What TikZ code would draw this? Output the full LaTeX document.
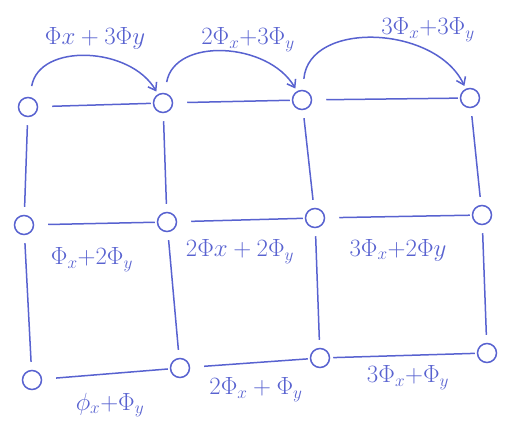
\documentclass[tikz,border=0pt]{standalone}
\usetikzlibrary{arrows.meta}
\definecolor{handblue}{RGB}{88,98,208}
\begin{document}
\begin{tikzpicture}[x=1pt,y=-1pt,
  pt/.style={circle,draw=handblue,line width=1.5pt,minimum size=19pt,inner sep=0pt},
  edge/.style={draw=handblue,line width=1.5pt,shorten <=8pt,shorten >=8pt},
  hedge/.style={edge,shorten <=14pt,shorten >=2pt},
  hop/.style={draw=handblue,line width=1.5pt,-{Straight Barb[length=7pt,width=10pt]},shorten <=11pt,shorten >=3pt,looseness=1.1},
  lab/.style={text=handblue,font=\fontsize{27}{30}\selectfont,inner sep=0pt}]
\useasboundingbox (0,0) rectangle (508,428);
% nodes
\node[pt] (n11) at (28,107) {};
\node[pt] (n12) at (163,103) {};
\node[pt] (n13) at (302,100) {};
\node[pt] (n14) at (470,98) {};
\node[pt] (n21) at (24,225) {};
\node[pt] (n22) at (167,222) {};
\node[pt] (n23) at (315,218) {};
\node[pt] (n24) at (482,215) {};
\node[pt] (n31) at (32,380) {};
\node[pt] (n32) at (180,368) {};
\node[pt] (n33) at (320,358) {};
\node[pt] (n34) at (487,353) {};
% horizontal
\draw[hedge] (n11) -- (n12);
\draw[hedge] (n12) -- (n13);
\draw[hedge] (n13) -- (n14);
\draw[hedge] (n21) -- (n22);
\draw[hedge] (n22) -- (n23);
\draw[hedge] (n23) -- (n24);
\draw[hedge] (n31) -- (n32);
\draw[hedge] (n32) -- (n33);
\draw[hedge,shorten <=3pt] (n33) -- (n34);
% vertical
\draw[edge] (n11) -- (n21);
\draw[edge] (n21) -- (n31);
\draw[edge] (n12) -- (n22);
\draw[edge] (n22) -- (n32);
\draw[edge] (n13) -- (n23);
\draw[edge] (n23) -- (n33);
\draw[edge] (n14) -- (n24);
\draw[edge] (n24) -- (n34);
% arrows
\draw[hop] (n11) to[out=80,in=120] (n12);
\draw[hop] (n12) to[out=80,in=120] (n13);
\draw[hop] (n13) to[out=85,in=115] (n14);
% labels
\node[lab] (t1) at (95,38) {$\Phi x+3\Phi y$};
\node[lab] (t2) at (248,40) {$2\Phi_x{+}3\Phi_y$};
\node[lab] (t3) at (428,30) {$3\Phi_x{+}3\Phi_y$};
\node[lab] (m1) at (92,260) {$\Phi_x{+}2\Phi_y$};
\node[lab] (m2) at (240,252) {$2\Phi x+2\Phi_y$};
\node[lab] (m3) at (398,250) {$3\Phi_x{+}2\Phi y$};
\node[lab] (b1) at (110,405) {$\phi_x{+}\Phi_y$};
\node[lab] (b2) at (256,390) {$2\Phi_x+\Phi_y$};
\node[lab] (b3) at (408,378) {$3\Phi_x{+}\Phi_y$};
\end{tikzpicture}
\end{document}
